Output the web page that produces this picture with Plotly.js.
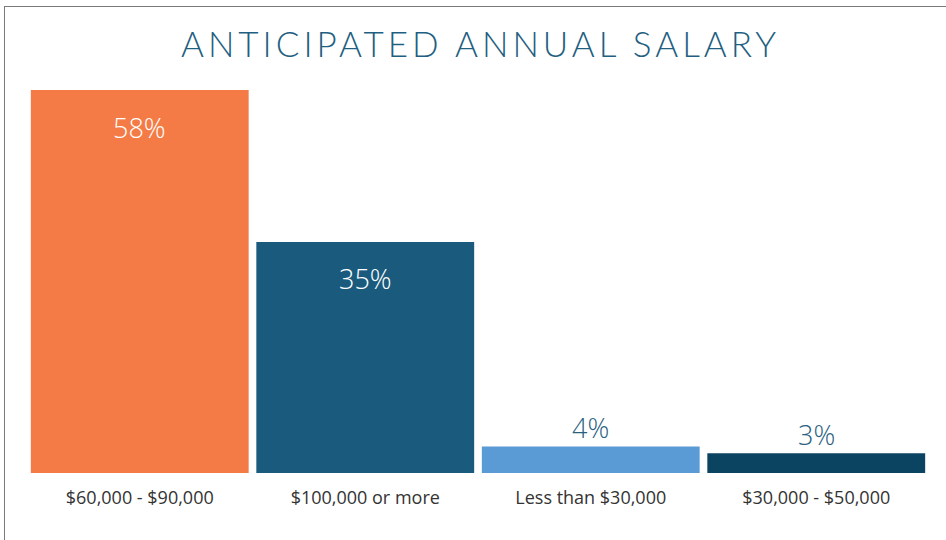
<!DOCTYPE html>
<html>
<head>
<meta charset="utf-8">
<script src="https://cdn.plot.ly/plotly-3.0.1.min.js"></script>
<style>
  html, body { margin: 0; padding: 0; background: #fff; }
  #wrap { position: relative; width: 946px; height: 540px; }
  #chart { width: 946px; height: 540px; }
  #frame { position: absolute; left: 4px; top: 6px; width: 960px; height: 560px;
           border-left: 1.5px solid #7a7a7a; border-top: 1.5px solid #7a7a7a;
           pointer-events: none; box-sizing: border-box; }
  .gtitle { letter-spacing: 4px; }
</style>
</head>
<body>
<div id="wrap">
  <div id="chart"></div>
  <div id="frame"></div>
</div>
<script>
const categories = ["$60,000 - $90,000", "$100,000 or more", "Less than $30,000", "$30,000 - $50,000"];
const values = [58, 35, 4, 3];
const labels = ["58%", "35%", "4%", "3%"];
const barColors = ["#F47B45", "#1A5A7D", "#5B9BD5", "#0B4461"];
const insideThreshold = 10;

const trace = {
  type: "bar",
  x: categories,
  y: values,
  marker: { color: barColors, line: { width: 0 } },
  hoverinfo: "skip",
  textposition: "none"
};

const annotations = categories.map((c, i) => {
  const inside = values[i] > insideThreshold;
  return {
    x: c, y: values[i], xref: "x", yref: "y",
    text: labels[i], showarrow: false,
    yshift: inside ? -37 : 19,
    font: { family: "Open Sans, sans-serif", size: 27, weight: 300, color: inside ? "#ffffff" : "#2A5F80" }
  };
});

const layout = {
  width: 946, height: 540,
  margin: { l: 27, r: 17, t: 90, b: 67, pad: 0 },
  paper_bgcolor: "#ffffff", plot_bgcolor: "#ffffff",
  title: {
    text: "ANTICIPATED ANNUAL SALARY",
    x: 0.508, xanchor: "center", y: 0.917, yanchor: "middle",
    font: { family: "Lato, sans-serif", size: 35, weight: 300, color: "#1F5F82" }
  },
  bargap: 0.034,
  showlegend: false,
  xaxis: {
    type: "category", showgrid: false, zeroline: false, showline: false,
    ticks: "", ticklen: 0, ticklabelstandoff: 12,
    tickfont: { family: "Open Sans, sans-serif", size: 18, color: "#333333" }
  },
  yaxis: {
    range: [0, 58], showgrid: false, zeroline: false, showline: false,
    showticklabels: false, ticks: ""
  },
  annotations: annotations
};

Plotly.newPlot("chart", [trace], layout, { displayModeBar: false, staticPlot: true });
</script>
</body>
</html>
